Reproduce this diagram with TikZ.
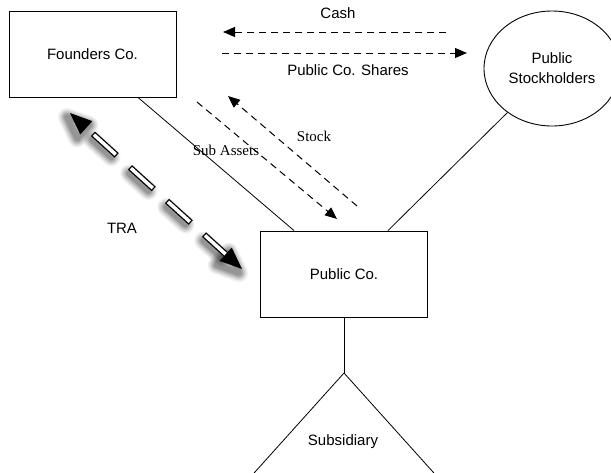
\documentclass[tikz,border=0pt]{standalone}
\usepackage{fontspec}
\setmainfont{Liberation Sans}
\newfontfamily\timesfont{Liberation Serif}
\usetikzlibrary{arrows.meta,shapes.geometric,calc}
\begin{document}
\begin{tikzpicture}[x=1pt,y=-1pt,
  font=\fontsize{15}{20}\selectfont,
  box/.style={draw, line width=0.9pt, minimum width=167pt, minimum height=86pt, inner sep=0pt},
  conn/.style={line width=0.8pt},
  flow/.style={line width=1pt, dash pattern=on 7pt off 5pt, -{Triangle[length=12pt,width=10pt]}},
  tra/.style={double=white, double distance=3.5pt, line width=1.3pt, line cap=rect, dash pattern=on 26pt off 24pt, dash phase=38pt},
  serifl/.style={font=\timesfont\fontsize{15}{18}\selectfont},
  shadowstyle/.style={transform canvas={shift={(-3pt,-4pt)}}}]
\useasboundingbox (0,0) rectangle (611,472);
\clip (0,0) rectangle (611,472);

% nodes
\node[box] (founders) at (92.5,54) {Founders Co.};
\node[box] (pub) at (344,274) {Public Co.};
\node[draw, ellipse, line width=0.9pt, minimum width=136pt, minimum height=115pt, inner sep=0pt, align=center] (holders) at (552,68.5) {Public\\Stockholders};
\coordinate (apex) at (344,373);
\node (subl) at (343,442) {Subsidiary};

% TRA arrow geometry
\coordinate (tA) at (70,113);
\coordinate (tB) at (242,269);
\coordinate (bA) at ($(tA)!22pt!(tB)$);
\coordinate (bB) at ($(tB)!22pt!(tA)$);
\coordinate (bA1) at ($(bA)!9pt!90:(tB)$);
\coordinate (bA2) at ($(bA)!9pt!-90:(tB)$);
\coordinate (bB1) at ($(bB)!9pt!90:(tA)$);
\coordinate (bB2) at ($(bB)!9pt!-90:(tA)$);

% shadow of TRA arrow
\begin{scope}[shadowstyle]
  \foreach \w/\o in {18/0.06, 15/0.08, 12/0.1, 9/0.12, 6/0.14} {
    \draw[line width=\w pt, black, opacity=\o, line cap=round, dash pattern=on 26pt off 24pt, dash phase=38pt] (bA) -- (bB);
    \draw[line width=\w pt, black, opacity=\o, line join=round] (tA) -- (bA1) -- (bA2) -- cycle;
    \draw[line width=\w pt, black, opacity=\o, line join=round] (tB) -- (bB1) -- (bB2) -- cycle;
  }
\end{scope}

% TRA arrow
\draw[tra] (bA) -- (bB);
\fill (tA) -- (bA1) -- (bA2) -- cycle;
\fill (tB) -- (bB1) -- (bB2) -- cycle;
\node (tral) at (122,228) {TRA};

% solid connectors
\draw[conn] ([xshift=45.5pt]founders.south) -- ([xshift=-50pt]pub.north);
\draw[conn] ([xshift=44pt]pub.north) -- (holders);
\draw[conn] (pub.south) -- (apex);
\draw[conn] (apex) -- ++(-130,144.6);
\draw[conn] (apex) -- ++(130,144.6);

% flows
\coordinate (cashS) at (446,32);
\coordinate (cashE) at (223,32);
\coordinate (shS) at (222,53);
\coordinate (shE) at (467,53);
\coordinate (saS) at (197,102);
\coordinate (saE) at (337,219);
\coordinate (stS) at (357,206);
\coordinate (stE) at (228,96);
\draw[flow] (cashS) -- (cashE);
\draw[flow] (shS) -- (shE);
\draw[flow] (saS) -- (saE);
\draw[flow] (stS) -- (stE);

% labels
\node (cashl) at (338,13) {Cash};
\node (shl) at (348,70) {Public Co. Shares};
\node[serifl] (sal) at (226,150) {Sub Assets};
\node[serifl] (stl) at (314,136) {Stock};
\end{tikzpicture}
\end{document}
